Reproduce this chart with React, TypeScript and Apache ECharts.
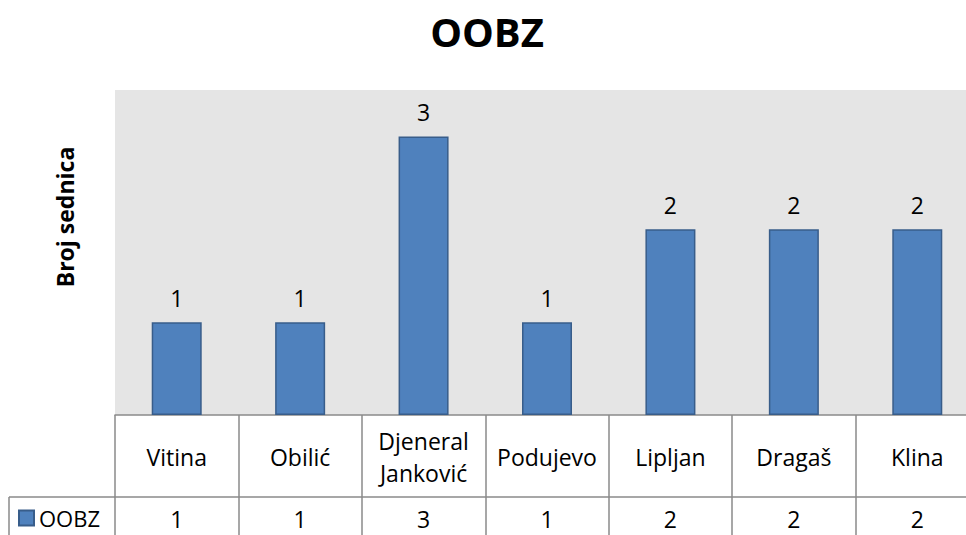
import React, { useEffect, useRef } from "react";
import * as echarts from "echarts";

const categories = ["Vitina", "Obilić", "Djeneral Janković", "Podujevo", "Lipljan", "Dragaš", "Klina"];
const seriesName = "OOBZ";
const values = [1, 1, 3, 1, 2, 2, 2];
const yMax = 3.5;
const yAxisTitle = "Broj sednica";

const FONT = "'Open Sans', 'Noto Sans', sans-serif";
const LINE = "#8a8a8a";

export default function App() {
  const ref = useRef<HTMLDivElement>(null);
  useEffect(() => {
    if (!ref.current) return;
    const chart = echarts.init(ref.current, null, { renderer: "svg" });
    chart.setOption({
      animation: false,
      backgroundColor: "#ffffff",
      title: {
        text: "OOBZ",
        left: 482,
        top: 6,
        textAlign: "center",
        textStyle: { fontFamily: FONT, fontSize: 40, fontWeight: "bold", color: "#000" },
      },
      legend: {
        left: 18,
        top: 507,
        padding: 0,
        icon: "rect",
        itemWidth: 15,
        itemHeight: 15,
        itemGap: 5,
        textStyle: { fontFamily: FONT, fontSize: 22, lineHeight: 22, color: "#000" },
        data: [seriesName],
      },
      grid: {
        left: 115,
        top: 90,
        right: -13,
        bottom: 120,
        outerBoundsMode: "none",
        show: true,
        backgroundColor: "#E5E5E5",
        borderWidth: 0,
        containLabel: false,
      },
      xAxis: [
        {
          type: "category",
          data: categories,
          position: "bottom",
          axisLine: { show: true, lineStyle: { color: LINE, width: 1.5 } },
          axisTick: { show: true, length: 82, lineStyle: { color: LINE, width: 1.5 } },
          axisLabel: {
            interval: 0,
            margin: 42,
            verticalAlign: "middle",
            lineHeight: 32,
            fontFamily: FONT,
            fontSize: 23,
            color: "#000",
            formatter: (v: string) => v.replace(" ", "\n"),
          },
        },
        {
          type: "category",
          data: values.map((v) => String(v)),
          position: "bottom",
          offset: 82,
          axisLine: { show: true, lineStyle: { color: LINE, width: 1.5 } },
          axisTick: { show: true, length: 45, lineStyle: { color: LINE, width: 1.5 } },
          axisLabel: {
            interval: 0,
            margin: 22,
            verticalAlign: "middle",
            fontFamily: FONT,
            fontSize: 23,
            color: "#000",
          },
        },
      ],
      yAxis: {
        type: "value",
        min: 0,
        max: yMax,
        axisLine: { show: false },
        axisTick: { show: false },
        axisLabel: { show: false },
        splitLine: { show: false },
      },
      graphic: [
        {
          type: "text",
          x: 65,
          y: 217,
          rotation: Math.PI / 2,
          style: {
            text: yAxisTitle,
            fontFamily: FONT,
            fontSize: 23,
            fontWeight: "bold",
            fill: "#000",
            align: "center",
            verticalAlign: "middle",
          },
        },
        {
          type: "line",
          shape: { x1: 9, y1: 497, x2: 115, y2: 497 },
          style: { stroke: LINE, lineWidth: 1.5 },
        },
        {
          type: "line",
          shape: { x1: 9, y1: 497, x2: 9, y2: 540 },
          style: { stroke: LINE, lineWidth: 1.5 },
        },
      ],
      series: [
        {
          name: seriesName,
          type: "bar",
          data: values,
          barWidth: 50,
          itemStyle: { color: "#4F81BD", borderColor: "#385D8A", borderWidth: 1.5 },
          label: {
            show: true,
            position: "top",
            distance: 13,
            fontFamily: FONT,
            fontSize: 23,
            color: "#000",
          },
        },
      ],
    });
    return () => chart.dispose();
  }, []);
  return (
    <div
      ref={ref}
      style={{ position: "absolute", left: 0, top: 0, width: 966, height: 535 }}
    />
  );
}
